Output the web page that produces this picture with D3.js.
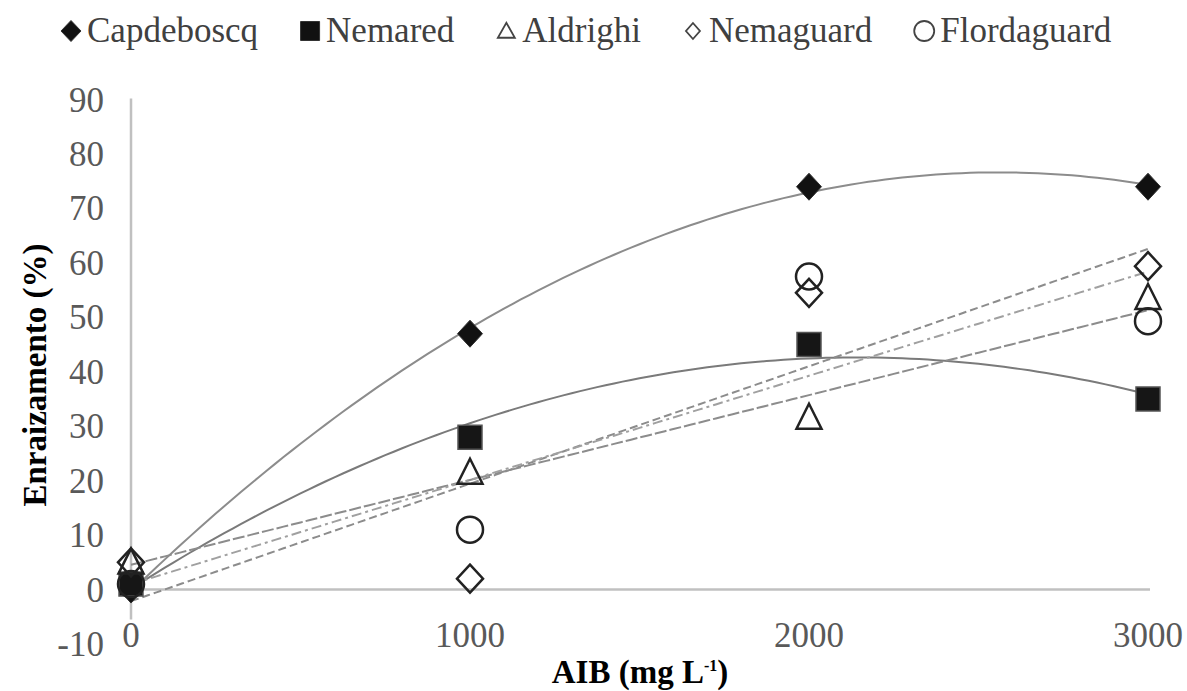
<!DOCTYPE html>
<meta charset="utf-8">
<script src="https://d3js.org/d3.v7.min.js"></script>
<title>Enraizamento</title>
<style>
  body { margin: 0; background: #fff; }
  text { font-family: "Liberation Serif", "Times New Roman", serif; }
  .tick-label { fill: #595959; font-size: 35px; }
  .axis-title { fill: #000; font-size: 33px; font-weight: bold; }
  .legend-label { fill: #404040; font-size: 35px; }
</style>
<body>
<script>

// doses of AIB (mg L-1)
var doses = [0, 1000, 2000, 3000];

// rooting (%)
var capdeboscq = [0, 47, 74, 74];
var nemared = [1, 28, 45, 35];
var aldrighi = [5, 21.5, 31.6, 53.6];
var nemaguard = [5, 2, 54.5, 59.4];
var flordaguard = [1, 11, 57.5, 49.3];

var seriesNames = ["Capdeboscq", "Nemared", "Aldrighi", "Nemaguard", "Flordaguard"];
var seriesValues = [capdeboscq, nemared, aldrighi, nemaguard, flordaguard];
// order of the trend line for each series (2 = polynomial, 1 = linear)
var trendOrder = [2, 2, 1, 1, 1];

var xTicks = [0, 1000, 2000, 3000];
var yTicks = [-10, 0, 10, 20, 30, 40, 50, 60, 70, 80, 90];

var width = 1187, height = 691;

var x = d3.scaleLinear().domain([0, 3000]).range([131, 1148]);
var y = d3.scaleLinear().domain([-10, 90]).range([644, 99.6]);

var svg = d3.select("body")
  .append("svg")
  .attr("width", width)
  .attr("height", height)
  .style("background", "#fff");

// marker shapes
function diamond(w, h) {
  return "M0," + (-h / 2) + "L" + (w / 2) + ",0L0," + (h / 2) + "L" + (-w / 2) + ",0Z";
}
function square(s) {
  return "M" + (-s / 2) + "," + (-s / 2) + "h" + s + "v" + s + "h" + (-s) + "Z";
}
function triangle(w, h) {
  return "M0," + (-h * 0.55) + "L" + (w / 2) + "," + (h * 0.45) + "L" + (-w / 2) + "," + (h * 0.45) + "Z";
}
function circle(r) {
  return "M" + r + ",0A" + r + "," + r + " 0 1,1 " + (-r) + ",0A" + r + "," + r + " 0 1,1 " + r + ",0Z";
}

var markerStyle = [
  { path: diamond(25, 27), fill: "#111", stroke: "#333", sw: 1 },
  { path: square(24), fill: "#161616", stroke: "#555", sw: 1.5 },
  { path: triangle(25, 25), fill: "none", stroke: "#222", sw: 2.5 },
  { path: diamond(26, 28), fill: "none", stroke: "#222", sw: 2.5 },
  { path: circle(13), fill: "none", stroke: "#222", sw: 2.5 }
];
var legendShape = [
  diamond(20, 21), square(19), triangle(17, 15), diamond(14, 16), circle(10)
];
var lineStyle = [
  { color: "#8c8c8c", dash: null },
  { color: "#7a7a7a", dash: null },
  { color: "#8c8c8c", dash: "12,3" },
  { color: "#8c8c8c", dash: "8,4" },
  { color: "#a0a0a0", dash: "10,4,3,4" }
];

// least squares polynomial fit, like a spreadsheet trend line
function polyfit(xs, ys, n) {
  var m = n + 1, A = [], b = [];
  for (var i = 0; i < m; i++) {
    A.push([]);
    for (var j = 0; j < m; j++) A[i].push(d3.sum(xs, function(v) { return Math.pow(v, i + j); }));
    b.push(d3.sum(xs, function(v, k) { return ys[k] * Math.pow(v, i); }));
  }
  for (var c = 0; c < m; c++) {
    for (var r = c + 1; r < m; r++) {
      var f = A[r][c] / A[c][c];
      for (var k = c; k < m; k++) A[r][k] -= f * A[c][k];
      b[r] -= f * b[c];
    }
  }
  var coef = new Array(m);
  for (var r2 = m - 1; r2 >= 0; r2--) {
    var s = b[r2];
    for (var k2 = r2 + 1; k2 < m; k2++) s -= A[r2][k2] * coef[k2];
    coef[r2] = s / A[r2][r2];
  }
  return function(v) {
    return d3.sum(coef, function(c, p) { return c * Math.pow(v, p); });
  };
}

// axes
svg.append("line")
  .attr("x1", x(0)).attr("x2", x(0))
  .attr("y1", y(90) - 1).attr("y2", y(-5.5))
  .attr("stroke", "#c0c0c0").attr("stroke-width", 2.5);
svg.append("line")
  .attr("x1", x(0)).attr("x2", x(3000) + 2)
  .attr("y1", y(0)).attr("y2", y(0))
  .attr("stroke", "#c0c0c0").attr("stroke-width", 2.5);

svg.selectAll(".ytick")
  .data(yTicks)
  .enter().append("text")
  .attr("class", "tick-label")
  .attr("x", 104)
  .attr("y", function(d) { return y(d) + 12; })
  .attr("text-anchor", "end")
  .text(function(d) { return d; });

svg.selectAll(".xtick")
  .data(xTicks)
  .enter().append("text")
  .attr("class", "tick-label")
  .attr("x", function(d) { return x(d); })
  .attr("y", 647)
  .attr("text-anchor", "middle")
  .text(function(d) { return d; });

// trend lines
var line = d3.line()
  .x(function(d) { return x(d[0]); })
  .y(function(d) { return y(d[1]); });

seriesValues.forEach(function(vals, i) {
  var fit = polyfit(doses, vals, trendOrder[i]);
  var pts = d3.range(0, 3001, 25).map(function(v) { return [v, fit(v)]; });
  svg.append("path")
    .datum(pts)
    .attr("d", line)
    .attr("fill", "none")
    .attr("stroke", lineStyle[i].color)
    .attr("stroke-width", 2)
    .attr("stroke-dasharray", lineStyle[i].dash);
});

// markers
seriesValues.forEach(function(vals, i) {
  svg.selectAll(".m" + i)
    .data(vals)
    .enter().append("path")
    .attr("class", "m" + i)
    .attr("transform", function(d, k) { return "translate(" + x(doses[k]) + "," + y(d) + ")"; })
    .attr("d", markerStyle[i].path)
    .attr("fill", markerStyle[i].fill)
    .attr("stroke", markerStyle[i].stroke)
    .attr("stroke-width", markerStyle[i].sw);
});

// axis titles
svg.append("text")
  .attr("class", "axis-title")
  .attr("transform", "translate(46,375) rotate(-90)")
  .attr("text-anchor", "middle")
  .text("Enraizamento (%)");

var xt = svg.append("text")
  .attr("class", "axis-title")
  .attr("x", 640)
  .attr("y", 683)
  .attr("text-anchor", "middle");
xt.append("tspan").text("AIB (mg L");
xt.append("tspan").attr("dy", -12).style("font-size", "16px").text("-1");
xt.append("tspan").attr("dy", 12).text(")");

// legend
var lx = 71;
seriesNames.forEach(function(name, i) {
  var g = svg.append("g");
  g.append("path")
    .attr("transform", "translate(" + lx + ",31)")
    .attr("d", legendShape[i])
    .attr("fill", i < 2 ? "#111" : "none")
    .attr("stroke", i < 2 ? "#333" : "#444")
    .attr("stroke-width", i < 2 ? 1 : 1.8);
  var t = g.append("text")
    .attr("class", "legend-label")
    .attr("x", lx + 16)
    .attr("y", 42)
    .text(name);
  lx = lx + 16 + t.node().getComputedTextLength() + 52;
});

</script>
</body>
</html>
